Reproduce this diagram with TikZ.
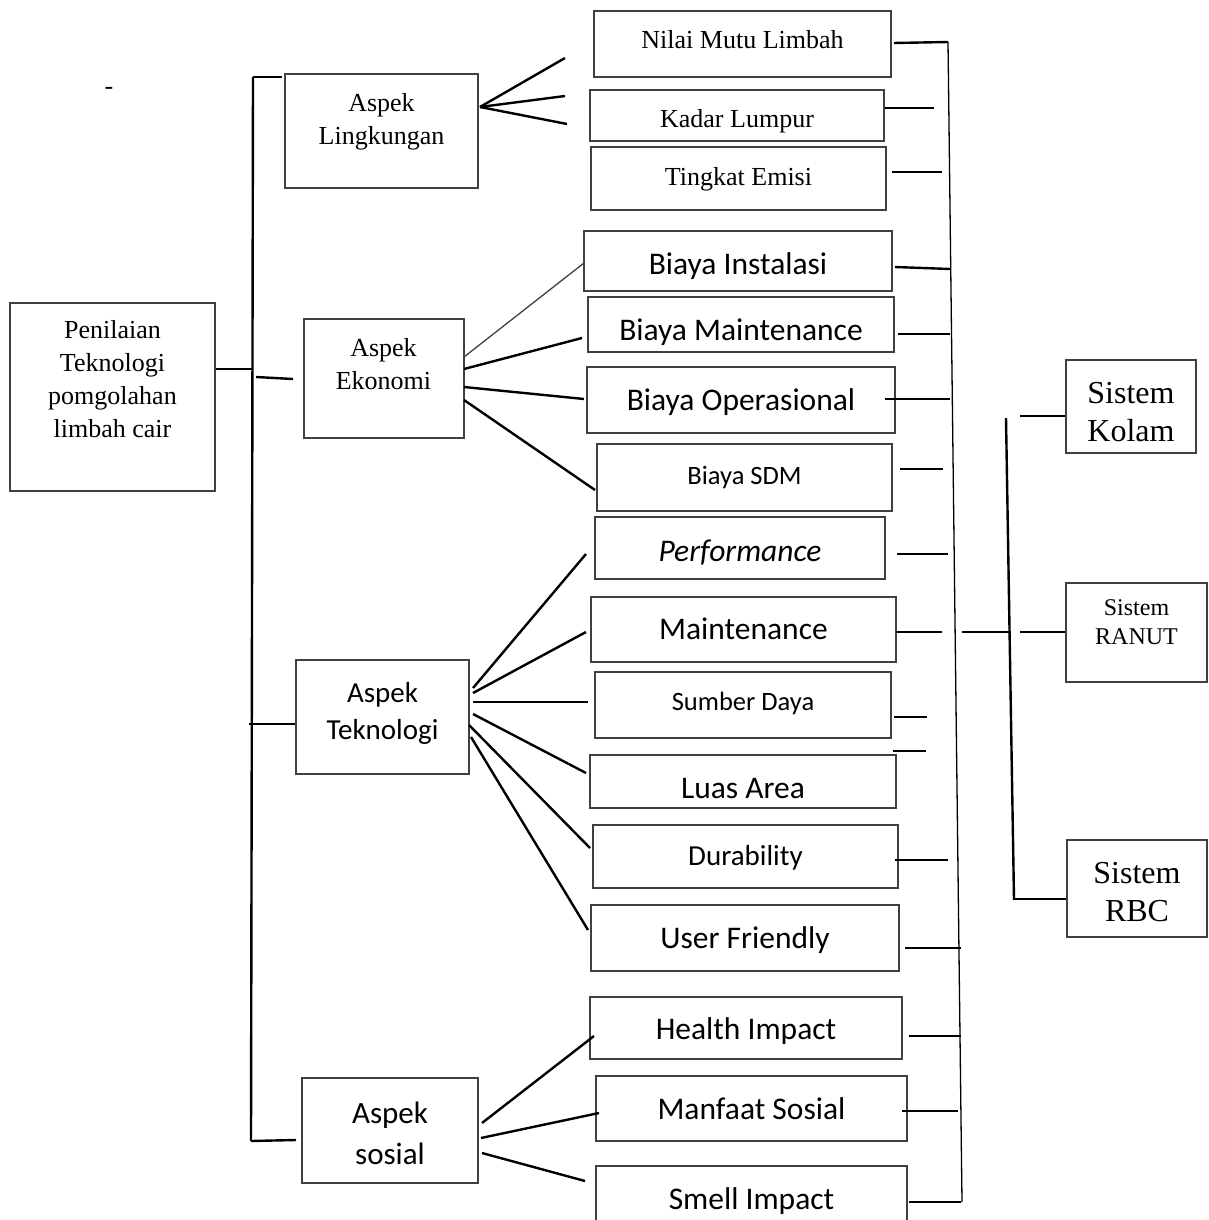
\documentclass[tikz,border=0pt]{standalone}
\usepackage{fontspec}
\setmainfont{Liberation Serif}
\newfontfamily\calibri{Carlito}
\definecolor{boxgray}{gray}{0.25}
% text baseline put #1 below the box centre
\newcommand{\lowered}[2]{\raisebox{-#1}[0pt][0pt]{#2}}

\begin{document}
\begin{tikzpicture}[x=1pt, y=-1pt,
    box/.style={draw=boxgray, line width=2pt, inner sep=0pt, align=center},
    link/.style={line width=2.4pt},
    thinlink/.style={line width=1.3pt},
    serif/.style={font=\fontsize{26}{33}\selectfont, align=center},
    sans/.style={font=\calibri\fontsize{31.5}{38}\selectfont, align=center},
    sanssmall/.style={font=\calibri\fontsize{26.5}{32}\selectfont, align=center}]

    % Fix the page
    \useasboundingbox (0,0) rectangle (1208,1220);

    % Root and the four aspects
    \node[box, minimum width=205pt, minimum height=188pt] (root) at (112.5,397) {};
    \node[serif] (rootT) at (112.5,379) {Penilaian\\Teknologi\\pomgolahan\\limbah cair};
    \node[serif] (stray) at (109,91) {-};

    \node[box, minimum width=193pt, minimum height=114pt] (lingk) at (381.5,131) {};
    \node[serif] (lingkT) at (381.5,122) {Aspek\\Lingkungan};
    \node[box, minimum width=160pt, minimum height=119pt] (ekon) at (383.5,378.5) {};
    \node[serif] (ekonT) at (383.5,364) {Aspek\\Ekonomi};
    \node[box, minimum width=173pt, minimum height=114pt] (tekno) at (382.5,717) {};
    \node[sans, font=\calibri\fontsize{29}{37}\selectfont] (teknoT) at (382.5,713) {Aspek\\Teknologi};
    \node[box, minimum width=176pt, minimum height=105pt] (sosial) at (390,1130.5) {};
    \node[sans, font=\calibri\fontsize{31}{41}\selectfont] (sosialT) at (390,1133) {Aspek\\sosial};

    % Criteria
    \node[box, serif, minimum width=297pt, minimum height=66pt] (nilai) at (742.5,44) {\lowered{5pt}{Nilai Mutu Limbah}};
    \node[box, serif, minimum width=294pt, minimum height=51pt] (kadar) at (737,115.5) {\lowered{12.5pt}{Kadar Lumpur}};
    \node[box, serif, minimum width=295pt, minimum height=63pt] (emisi) at (738.5,178.5) {\lowered{6.5pt}{Tingkat Emisi}};
    \node[box, sans, minimum width=308pt, minimum height=60pt] (instal) at (738,261) {\lowered{13pt}{Biaya Instalasi}};
    \node[box, sans, minimum width=306pt, minimum height=55pt] (bmaint) at (741,324.5) {\lowered{15.5pt}{Biaya Maintenance}};
    \node[box, sans, minimum width=308pt, minimum height=66pt] (boper) at (741,400) {\lowered{10pt}{Biaya Operasional}};
    \node[box, sanssmall, minimum width=295pt, minimum height=67pt] (bsdm) at (744.5,477.5) {\lowered{7pt}{Biaya SDM}};
    \node[box, sans, minimum width=290pt, minimum height=62pt] (perf) at (740,548) {\lowered{13pt}{\itshape Performance}};
    \node[box, sans, minimum width=305pt, minimum height=65pt] (maint) at (743.5,629.5) {\lowered{9.5pt}{Maintenance}};
    \node[box, sanssmall, minimum width=296pt, minimum height=66pt] (sumber) at (743,705) {\lowered{5.3pt}{Sumber Daya}};
    \node[box, sans, minimum width=306pt, minimum height=53pt] (luas) at (743,781.5) {\lowered{16.5pt}{Luas Area}};
    \node[box, sans, font=\calibri\fontsize{29}{35}\selectfont, minimum width=305pt, minimum height=63pt] (dura) at (745.5,856.5) {\lowered{8.5pt}{Durability}};
    \node[box, sans, minimum width=308pt, minimum height=66pt] (user) at (745,938) {\lowered{10pt}{User Friendly}};
    \node[box, sans, minimum width=312pt, minimum height=62pt] (health) at (746,1028) {\lowered{11pt}{Health Impact}};
    \node[box, sans, minimum width=311pt, minimum height=65pt] (manfaat) at (751.5,1108.5) {\lowered{10.5pt}{Manfaat Sosial}};
    \node[box, sans, minimum width=311pt, minimum height=64pt] (smell) at (751.5,1198) {\lowered{11pt}{Smell Impact}};

    % Alternatives
    \node[box, minimum width=130pt, minimum height=93pt] (kolam) at (1131,406.5) {};
    \node[font=\fontsize{32}{38}\selectfont, align=center] (kolamT) at (1131,412.5) {Sistem\\Kolam};
    \node[box, minimum width=141pt, minimum height=99pt] (ranut) at (1136.5,632.5) {};
    \node[font=\fontsize{24}{29}\selectfont, align=center] (ranutT) at (1136.5,622) {Sistem\\RANUT};
    \node[box, minimum width=140pt, minimum height=97pt] (rbc) at (1137,888.5) {};
    \node[font=\fontsize{32}{38}\selectfont, align=center] (rbcT) at (1137,892.5) {Sistem\\RBC};

    % Main spine with its hooks
    \coordinate (spTop) at (253,77);
    \coordinate (spBot) at (251,1141);
    \coordinate (spRoot) at (252.5,369);
    \coordinate (spTekno) at (249,724);
    \coordinate (hkLingk) at (282,77);
    \coordinate (hkEkonA) at (256,377);
    \coordinate (hkEkonB) at (293,379);
    \coordinate (hkSosial) at (296,1140);
    \draw[link] (spTop) -- (spBot);
    \draw[link] (hkLingk) -- (spTop);
    \draw[link] (root.east |- spRoot) -- (spRoot);
    \draw[link] (hkEkonA) -- (hkEkonB);
    \draw[link] (spTekno) -- (spTekno -| tekno.west);
    \draw[link] (spBot) -- (hkSosial);

    % Fans from the aspects
    \coordinate (lkF) at (480,107);
    \foreach \n/\x/\y in {lk1/565/58, lk2/565/96, lk3/567/124}{
      \coordinate (\n) at (\x,\y);
      \draw[link] (lkF) -- (\n);
    }
    \coordinate (ek0-a) at (464,357);
    \coordinate (ek0-b) at (584,263);
    \draw[thinlink, boxgray] (ek0-a) -- (ek0-b);
    \foreach \n/\xa/\ya/\xb/\yb in {ek1/464/369/582/338, ek2/464/387/584/399, ek3/464/400/595/490,
        tk1/473/688/586/554, tk2/473/693/586/632, tk3/473/702/588/702,
        tk4/473/714/586/773, tk5/469/725/590/848, tk6/471/737/588/930,
        so1/482/1123/594/1036, so2/481/1138/599/1113, so3/482/1153/585/1181}{
      \coordinate (\n-a) at (\xa,\ya);
      \coordinate (\n-b) at (\xb,\yb);
      \draw[link] (\n-a) -- (\n-b);
    }

    % Links to the right-hand rail
    \coordinate (railTop) at (948,42);
    \coordinate (railBot) at (962,1202);
    \draw[thinlink] (railTop) -- (railBot);
    \foreach \n/\xa/\ya/\xb/\yb in {r1/894/43/948/42, r2/885/108/934/108, r3/892/172/942/172,
        r4/895/267/950/269, r5/898/334/950/334, r6/885/399/950/399, r7/900/469/943/469,
        r8/897/554/948/554, r9/896/632/942/632, r10/894/717/927/717, r11/893/751/926/751,
        r12/895/860/948/860, r13/905/948/961/948, r14/909/1036/961/1036,
        r15/902/1111/958/1111, r16/909/1202/961/1202}{
      \coordinate (\n-a) at (\xa,\ya);
      \coordinate (\n-b) at (\xb,\yb);
      \draw[link] (\n-a) -- (\n-b);
    }

    % Second spine to the alternatives
    \coordinate (alTop) at (1006,418);
    \coordinate (alBot) at (1014,900);
    \coordinate (alMid) at (1010,632);
    \coordinate (alIn) at (962,632);
    \coordinate (kolamIn) at (1020,416);
    \coordinate (ranutIn) at (1020,632);
    \coordinate (rbcIn) at (1014,899);
    \draw[link] (alTop) -- (alBot);
    \draw[link] (alIn) -- (alMid);
    \draw[thinlink] (kolamIn) -- (kolamIn -| kolam.west);
    \draw[link] (ranutIn) -- (ranutIn -| ranut.west);
    \draw[link] (rbcIn) -- (rbcIn -| rbc.west);
\end{tikzpicture}
\end{document}
